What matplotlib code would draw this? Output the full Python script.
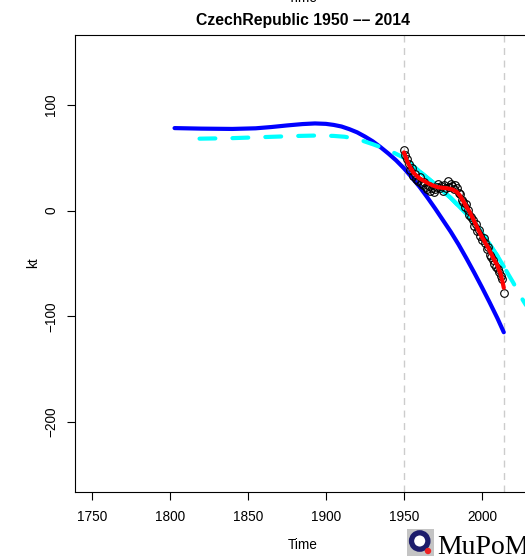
import numpy as np
import matplotlib
matplotlib.use("Agg")
import matplotlib.pyplot as plt
from matplotlib.patches import Circle

plt.rcParams['font.family'] = ['Liberation Sans', 'DejaVu Sans']

# --- data ---
# blue solid curve
blue_year = [1803, 1820, 1840, 1855, 1865, 1875, 1885, 1893, 1900, 1905, 1910, 1915,
             1920, 1925, 1930, 1935, 1940, 1945, 1950, 1955, 1960, 1965, 1970, 1975,
             1980, 1985, 1990, 1995, 2000, 2005, 2010, 2014]
blue_kt = [78, 77.5, 77.2, 77.8, 79, 80.5, 81.8, 82.4, 82, 81, 79.5, 77,
           74, 70, 65.5, 60, 54, 47.5, 40, 31.5, 22.5, 12.5, 2, -9,
           -20, -32, -45, -58.5, -72.5, -87, -102, -115]

# cyan curve (dashed over full range, solid over fit period)
cyan_year = [1819, 1840, 1860, 1880, 1895, 1905, 1912, 1918, 1924, 1930, 1936, 1942,
             1950, 1955, 1960, 1965, 1970, 1975, 1980, 1985, 1990, 1995, 2000, 2005,
             2010, 2014, 2020, 2026, 2031]
cyan_kt = [68, 68.5, 69.5, 70.5, 71, 70.6, 69.8, 68.2, 65.8, 62.8, 59.5, 55.8,
           50, 43.5, 37, 31, 25, 18.5, 12, 4.5, -3, -11, -21, -32,
           -43, -53, -68, -84, -96]

# red smooth through observations
red_year = [1950, 1952, 1954, 1956, 1958, 1960, 1963, 1966, 1969, 1972, 1975,
            1978, 1981, 1984, 1986, 1988, 1990, 1992, 1994, 1996, 1998, 2000,
            2002, 2004, 2006, 2008, 2010, 2012, 2013, 2014]
red_kt = [55, 47, 41, 36, 33, 30.5, 28, 25.5, 23.5, 22, 21.5,
          21, 20, 17.5, 14, 9, 4, -1, -7, -13, -19, -25,
          -30, -35, -41, -47, -52, -60, -66, -73]

# observed kt, 1950-2014
obs_year = list(range(1950, 2015))
obs_kt = [57, 53, 49, 44, 38, 40, 33, 35, 30, 28, 32, 26, 24, 27, 22, 20, 23, 19,
          21, 18, 20, 22, 25, 21, 23, 19, 24, 21, 28, 22, 25, 23, 20, 24, 21, 17,
          16, 10, 8, 3, 6, 1, -4, -6, -9, -15, -13, -19, -18, -24, -28, -26, -31,
          -36, -34, -42, -44, -47, -50, -53, -55, -58, -62, -65, -78]

fit_start, fit_end = 1950, 2014

fig = plt.figure(figsize=(5.25, 5.56), dpi=100)
ax = fig.add_axes([75 / 525, 1 - 492 / 556, 455 / 525, 457 / 556])

ax.axvline(fit_start, color='#cccccc', lw=1, ls=(0, (5, 4)), zorder=1)
ax.axvline(fit_end, color='#cccccc', lw=1, ls=(0, (5, 4)), zorder=1)

ax.plot(blue_year, blue_kt, color='#0000FF', lw=3, solid_capstyle='round',
        solid_joinstyle='round', zorder=3)
ax.plot(cyan_year, cyan_kt, color='#00FFFF', lw=3, ls=(0, (3.8, 4.1)),
        dash_capstyle='round', zorder=3)
cy = np.array(cyan_year)
ck = np.array(cyan_kt)
m = (cy >= fit_start) & (cy <= fit_end)
ax.plot(cy[m], ck[m], color='#00FFFF', lw=3, solid_capstyle='round',
        solid_joinstyle='round', zorder=4)
ax.plot(obs_year, obs_kt, 'o', mfc='none', mec='black', ms=5.5, mew=0.8, zorder=5)
ax.plot(red_year, red_kt, color='#FF0000', lw=3, solid_capstyle='round',
        solid_joinstyle='round', zorder=6)

ax.set_xlim(1739.2, 2030.8)
ax.set_ylim(-266, 166)
ax.set_xticks([1750, 1800, 1850, 1900, 1950, 2000])
ax.set_yticks([-200, -100, 0, 100])
ax.set_yticklabels(['\u2212200', '\u2212100', '0', '100'])
ax.tick_params(axis='both', direction='out', length=5.5, width=0.8, labelsize=9.8)
ax.tick_params(axis='x', pad=7.5)
ax.tick_params(axis='y', pad=6.5, labelrotation=90)
for lab in ax.get_yticklabels():
    lab.set_verticalalignment('center')
for s in ax.spines.values():
    s.set_linewidth(0.8)

fig.text(302.5 / 525, 1 - 20 / 556, 'CzechRepublic 1950 \u2013\u2013 2014',
         ha='center', va='center', fontsize=11.3, fontweight='bold')
fig.text(303 / 525, 1 - 2 / 556, 'Time', ha='center', va='baseline', fontsize=9.8)
fig.text(303 / 525, 1 - 545 / 556, 'Time', ha='center', va='center', fontsize=9.8)
fig.text(33 / 525, 1 - 263 / 556, 'kt', ha='center', va='center', rotation=90, fontsize=9.8)

# MuPoM logo
lax = fig.add_axes([407 / 525, 0, 27 / 525, 27 / 556])
lax.set_facecolor('#c4c4c4')
lax.set_xlim(0, 27)
lax.set_ylim(0, 27)
lax.set_xticks([])
lax.set_yticks([])
for s in lax.spines.values():
    s.set_visible(False)
lax.add_patch(Circle((12.7, 15), 8.2, facecolor='white', edgecolor='#1c1c6b', lw=3.8))
lax.add_patch(Circle((21, 5), 3.2, facecolor='#ee2222', edgecolor='none'))
fig.text(437 / 525, 1 - 554 / 556, 'MuPoM', ha='left', va='baseline',
         fontsize=20, family=['Liberation Serif', 'DejaVu Serif'])

fig.savefig('out.png', dpi=100)
